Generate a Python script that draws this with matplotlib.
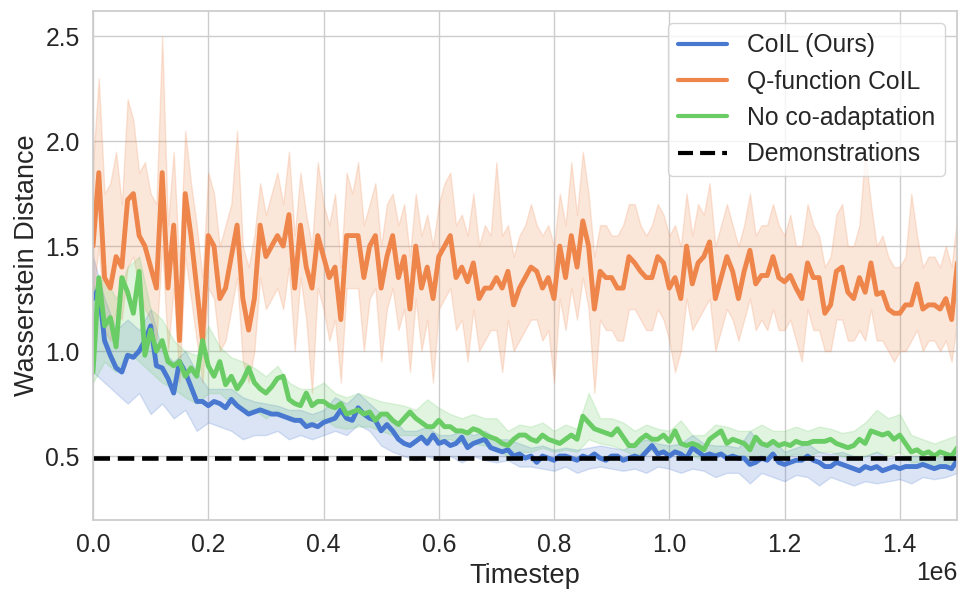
import numpy as np
import matplotlib
matplotlib.use("Agg")
import matplotlib.pyplot as plt
import seaborn as sns

sns.set_theme(style="whitegrid", palette="muted")
plt.rcParams["font.family"] = ["Liberation Sans", "DejaVu Sans"]

# timesteps for the mean curves (every 10k) and for the narrow bands (every 20k)
steps = np.arange(0, 1500001, 10000)
band_steps = np.arange(0, 1500001, 20000)

coil_mean = [
    1.25, 1.3, 1.05, 0.98, 0.92, 0.9, 0.98, 0.97, 1.0, 1.05, 1.12, 0.93, 0.92, 0.87, 0.8, 0.95, 0.9, 0.83, 0.76,
    0.76, 0.74, 0.76, 0.75, 0.73, 0.77, 0.74, 0.72, 0.7, 0.71, 0.72, 0.71, 0.7, 0.7, 0.69, 0.68, 0.67, 0.67,
    0.64, 0.65, 0.64, 0.66, 0.67, 0.68, 0.72, 0.68, 0.67, 0.73, 0.7, 0.68, 0.67, 0.62, 0.65, 0.62, 0.58, 0.56, 0.55,
    0.57, 0.59, 0.56, 0.6, 0.56, 0.57, 0.55, 0.56, 0.59, 0.54, 0.56, 0.57, 0.58, 0.54, 0.53, 0.52, 0.53, 0.5, 0.51,
    0.49, 0.5, 0.47, 0.5, 0.49, 0.48, 0.5, 0.5, 0.49, 0.48, 0.5, 0.49, 0.51, 0.49, 0.48, 0.5, 0.5, 0.48, 0.49,
    0.5, 0.49, 0.52, 0.55, 0.51, 0.52, 0.5, 0.52, 0.51, 0.49, 0.54, 0.52, 0.5, 0.51, 0.5, 0.51, 0.49, 0.5, 0.49,
    0.49, 0.46, 0.47, 0.49, 0.48, 0.51, 0.47, 0.46, 0.47, 0.48, 0.48, 0.5, 0.48, 0.47, 0.45, 0.45, 0.47, 0.46, 0.45,
    0.44, 0.43, 0.45, 0.44, 0.45, 0.43, 0.44, 0.45, 0.44, 0.45, 0.45, 0.45, 0.46, 0.45, 0.44, 0.45, 0.45, 0.44, 0.48,
]
qfunc_mean = [
    1.5, 1.85, 1.35, 1.3, 1.45, 1.4, 1.72, 1.75, 1.55, 1.5, 1.4, 1.3, 1.85, 1.3, 1.6, 1.05, 1.75, 1.55, 1.3,
    1.05, 1.55, 1.5, 1.25, 1.3, 1.45, 1.6, 1.25, 1.1, 1.25, 1.6, 1.45, 1.5, 1.55, 1.5, 1.65, 1.3, 1.6,
    1.4, 1.3, 1.55, 1.45, 1.35, 1.4, 1.15, 1.55, 1.55, 1.55, 1.35, 1.5, 1.55, 1.3, 1.45, 1.55, 1.35, 1.45, 1.2,
    1.5, 1.3, 1.4, 1.25, 1.45, 1.5, 1.55, 1.35, 1.4, 1.33, 1.42, 1.25, 1.3, 1.3, 1.35, 1.3, 1.38, 1.22, 1.3,
    1.35, 1.4, 1.38, 1.3, 1.35, 1.25, 1.5, 1.35, 1.55, 1.4, 1.62, 1.5, 1.2, 1.38, 1.35, 1.35, 1.3, 1.3, 1.45,
    1.42, 1.38, 1.35, 1.35, 1.45, 1.42, 1.3, 1.35, 1.25, 1.5, 1.32, 1.42, 1.45, 1.52, 1.25, 1.35, 1.45, 1.38, 1.25,
    1.38, 1.48, 1.32, 1.36, 1.36, 1.45, 1.35, 1.33, 1.36, 1.3, 1.25, 1.42, 1.35, 1.35, 1.18, 1.22, 1.38, 1.4, 1.28,
    1.25, 1.35, 1.28, 1.42, 1.27, 1.28, 1.2, 1.18, 1.18, 1.22, 1.22, 1.32, 1.2, 1.22, 1.22, 1.2, 1.25, 1.15, 1.42,
]
nocoad_mean = [
    0.9, 1.35, 1.12, 1.16, 1.02, 1.35, 1.28, 1.18, 1.38, 0.98, 1.1, 1.0, 1.05, 0.95, 0.93, 0.95, 0.88, 0.92, 0.88,
    1.05, 0.93, 0.88, 0.95, 0.84, 0.88, 0.82, 0.86, 0.92, 0.85, 0.82, 0.8, 0.83, 0.87, 0.88, 0.77, 0.75, 0.74,
    0.8, 0.74, 0.76, 0.76, 0.74, 0.73, 0.75, 0.7, 0.71, 0.72, 0.7, 0.71, 0.67, 0.7, 0.7, 0.67, 0.65, 0.68, 0.71,
    0.68, 0.66, 0.64, 0.64, 0.67, 0.64, 0.64, 0.62, 0.62, 0.61, 0.63, 0.62, 0.6, 0.59, 0.58, 0.56, 0.55, 0.58, 0.6,
    0.6, 0.58, 0.57, 0.6, 0.58, 0.57, 0.56, 0.58, 0.6, 0.58, 0.69, 0.66, 0.63, 0.62, 0.61, 0.6, 0.63, 0.59, 0.55,
    0.55, 0.58, 0.6, 0.58, 0.58, 0.6, 0.57, 0.62, 0.56, 0.55, 0.56, 0.55, 0.53, 0.58, 0.6, 0.62, 0.56, 0.58, 0.57,
    0.56, 0.53, 0.59, 0.56, 0.55, 0.57, 0.55, 0.56, 0.55, 0.57, 0.56, 0.56, 0.57, 0.57, 0.57, 0.58, 0.56, 0.55, 0.54,
    0.55, 0.58, 0.56, 0.62, 0.61, 0.6, 0.61, 0.58, 0.6, 0.56, 0.52, 0.53, 0.51, 0.52, 0.5, 0.52, 0.51, 0.5, 0.54,
]

# Q-function band, same 10k grid as the means (spiky)
qfunc_lo = [
    1.25, 1.5, 1.1, 1.05, 1.2, 1.15, 1.4, 1.45, 1.3, 1.2, 1.15, 1.05, 1.5, 1.0, 1.3, 0.85, 1.45, 1.25, 1.05,
    0.85, 1.3, 1.25, 1.0, 1.05, 1.2, 1.35, 0.95, 0.85, 1.0, 1.35, 1.2, 1.25, 1.3, 1.2, 1.4, 1.0, 1.35,
    1.15, 0.8, 1.3, 1.2, 1.05, 1.15, 0.85, 1.3, 1.3, 1.3, 1.0, 1.25, 1.3, 0.95, 1.2, 1.3, 1.1, 1.2, 0.9,
    1.25, 1.0, 1.15, 0.85, 1.2, 1.25, 1.3, 1.1, 1.15, 0.95, 1.2, 1.0, 1.05, 1.1, 1.1, 0.9, 1.15, 1.0, 1.05,
    1.1, 1.15, 1.15, 1.05, 1.1, 0.85, 1.25, 1.1, 1.3, 1.15, 1.35, 1.2, 0.8, 1.15, 1.1, 1.1, 1.05, 1.05, 1.2,
    1.2, 1.15, 1.1, 1.1, 1.2, 1.15, 1.05, 0.9, 1.0, 1.25, 1.1, 1.15, 1.2, 1.25, 1.0, 1.1, 1.2, 1.15, 1.05,
    1.15, 1.25, 1.1, 1.15, 1.1, 1.2, 1.1, 1.1, 1.15, 1.05, 0.95, 1.2, 1.1, 1.1, 1.0, 1.0, 1.15, 1.15, 1.05,
    1.05, 1.1, 1.05, 1.2, 1.05, 1.05, 1.0, 0.95, 1.0, 1.0, 1.05, 1.1, 1.0, 1.05, 1.05, 1.0, 1.05, 0.95, 1.15,
]
qfunc_hi = [
    1.9, 2.3, 1.75, 1.8, 1.95, 1.7, 2.2, 2.1, 1.85, 1.9, 1.75, 1.7, 2.5, 1.6, 1.95, 1.4, 2.05, 1.8, 1.6,
    1.35, 1.85, 1.75, 1.5, 1.6, 1.7, 2.05, 1.5, 1.4, 1.55, 1.8, 1.65, 1.75, 1.85, 1.7, 1.95, 1.55, 1.85,
    1.65, 1.5, 1.9, 1.7, 1.6, 1.75, 1.4, 1.85, 1.75, 1.9, 1.6, 1.7, 1.8, 1.5, 1.7, 1.75, 1.6, 1.7, 1.45,
    1.75, 1.55, 1.65, 1.5, 1.7, 1.8, 1.85, 1.6, 1.65, 1.55, 1.75, 1.5, 1.6, 1.55, 1.9, 1.55, 1.6, 1.45, 1.55,
    1.6, 1.7, 1.6, 1.55, 1.6, 1.5, 1.75, 1.6, 1.9, 1.65, 1.95, 1.75, 1.45, 1.6, 1.6, 1.55, 1.55, 1.6, 1.7,
    1.7, 1.6, 1.55, 1.6, 1.7, 1.65, 1.55, 1.6, 1.5, 1.75, 1.55, 1.7, 1.65, 1.8, 1.5, 1.6, 1.7, 1.6, 1.5,
    1.6, 1.75, 1.55, 1.6, 1.6, 1.7, 1.6, 1.55, 1.65, 1.5, 1.5, 1.7, 1.6, 1.55, 1.4, 1.45, 1.65, 1.7, 1.5,
    1.5, 1.6, 1.95, 1.7, 1.5, 1.55, 1.45, 1.4, 1.4, 1.45, 1.75, 1.55, 1.4, 1.45, 1.45, 1.4, 1.5, 1.4, 1.65,
]

# narrower bands (every 20k)
coil_lo = [
    0.9, 0.85, 0.8, 0.75, 0.8, 0.7, 0.75, 0.68, 0.72, 0.62, 0.66, 0.64, 0.62, 0.58, 0.6, 0.6, 0.62, 0.58, 0.6,
    0.58, 0.6, 0.62, 0.6, 0.65, 0.62, 0.55, 0.52, 0.5, 0.48, 0.5, 0.48, 0.5, 0.47, 0.5, 0.48, 0.47, 0.48, 0.45,
    0.45, 0.44, 0.43, 0.45, 0.42, 0.44, 0.45, 0.44, 0.43, 0.44, 0.42, 0.45, 0.44, 0.42, 0.44, 0.43, 0.4, 0.42,
    0.42, 0.37, 0.42, 0.4, 0.38, 0.41, 0.4, 0.36, 0.4, 0.38, 0.36, 0.38, 0.37, 0.38, 0.39, 0.37, 0.4, 0.39, 0.4, 0.42,
]
coil_hi = [
    1.45, 1.25, 1.1, 1.15, 1.1, 1.2, 1.0, 0.95, 1.0, 0.9, 0.82, 0.82, 0.82, 0.78, 0.76, 0.75, 0.74, 0.72, 0.72,
    0.7, 0.72, 0.78, 0.75, 0.8, 0.75, 0.7, 0.68, 0.62, 0.62, 0.64, 0.6, 0.6, 0.62, 0.6, 0.62, 0.58, 0.58, 0.56,
    0.54, 0.55, 0.53, 0.54, 0.53, 0.54, 0.55, 0.54, 0.53, 0.56, 0.58, 0.56, 0.55, 0.56, 0.6, 0.56, 0.55, 0.55,
    0.54, 0.62, 0.55, 0.58, 0.52, 0.54, 0.56, 0.52, 0.51, 0.52, 0.5, 0.5, 0.52, 0.49, 0.5, 0.5, 0.5, 0.49, 0.5, 0.53,
]
nocoad_lo = [
    0.85, 0.95, 0.9, 1.0, 0.95, 0.9, 0.85, 0.82, 0.78, 0.75, 0.8, 0.8, 0.75, 0.72, 0.72, 0.68, 0.72, 0.67, 0.66,
    0.66, 0.68, 0.64, 0.63, 0.64, 0.64, 0.62, 0.6, 0.6, 0.6, 0.58, 0.58, 0.58, 0.56, 0.56, 0.55, 0.53, 0.5, 0.52,
    0.52, 0.54, 0.52, 0.53, 0.52, 0.58, 0.56, 0.55, 0.53, 0.5, 0.53, 0.52, 0.52, 0.5, 0.5, 0.48, 0.52, 0.5,
    0.5, 0.48, 0.5, 0.5, 0.5, 0.51, 0.5, 0.52, 0.52, 0.5, 0.49, 0.5, 0.52, 0.5, 0.52, 0.47, 0.47, 0.45, 0.46, 0.48,
]
nocoad_hi = [
    1.3, 1.35, 1.25, 1.4, 1.45, 1.2, 1.15, 1.05, 1.0, 0.98, 1.12, 1.02, 0.97, 0.95, 0.92, 0.88, 0.93, 0.85, 0.82,
    0.82, 0.85, 0.8, 0.78, 0.8, 0.78, 0.76, 0.75, 0.74, 0.72, 0.77, 0.73, 0.7, 0.68, 0.7, 0.68, 0.68, 0.62, 0.65,
    0.64, 0.66, 0.62, 0.65, 0.63, 0.8, 0.68, 0.68, 0.66, 0.62, 0.65, 0.63, 0.62, 0.67, 0.6, 0.6, 0.65, 0.64,
    0.62, 0.62, 0.65, 0.62, 0.62, 0.64, 0.62, 0.64, 0.63, 0.61, 0.62, 0.66, 0.72, 0.68, 0.7, 0.6, 0.58, 0.56, 0.58, 0.6,
]

demo_level = 0.49

series = [
    ("CoIL (Ours)", coil_mean, band_steps, coil_lo, coil_hi),
    ("Q-function CoIL", qfunc_mean, steps, qfunc_lo, qfunc_hi),
    ("No co-adaptation", nocoad_mean, band_steps, nocoad_lo, nocoad_hi),
]
colors = sns.color_palette("muted")

fig, ax = plt.subplots(figsize=(9.69, 6.09), dpi=100)

for i, (label, mean, bx, lo, hi) in enumerate(series):
    ax.fill_between(bx, lo, hi, color=colors[i], alpha=0.2, linewidth=1)
    ax.plot(steps, mean, color=colors[i], linewidth=3.5, label=label)

ax.axhline(demo_level, color="black", linestyle=(0, (3.6, 1.7)), linewidth=3.3,
           label="Demonstrations")

ax.set_xlim(0, 1.5e6)
ax.set_ylim(0.195, 2.62)
ax.set_xlabel("Timestep", fontsize=19.5)
ax.set_ylabel("Wasserstein Distance", fontsize=19.5)
ax.tick_params(labelsize=17.8)
ax.xaxis.get_offset_text().set_fontsize(17.8)
leg = ax.legend(loc="upper right", fontsize=17.8)
for line in leg.get_lines():
    line.set_linewidth(3)

plt.subplots_adjust(left=0.096, right=0.988, top=0.982, bottom=0.146)
plt.savefig("out.png", dpi=100)
